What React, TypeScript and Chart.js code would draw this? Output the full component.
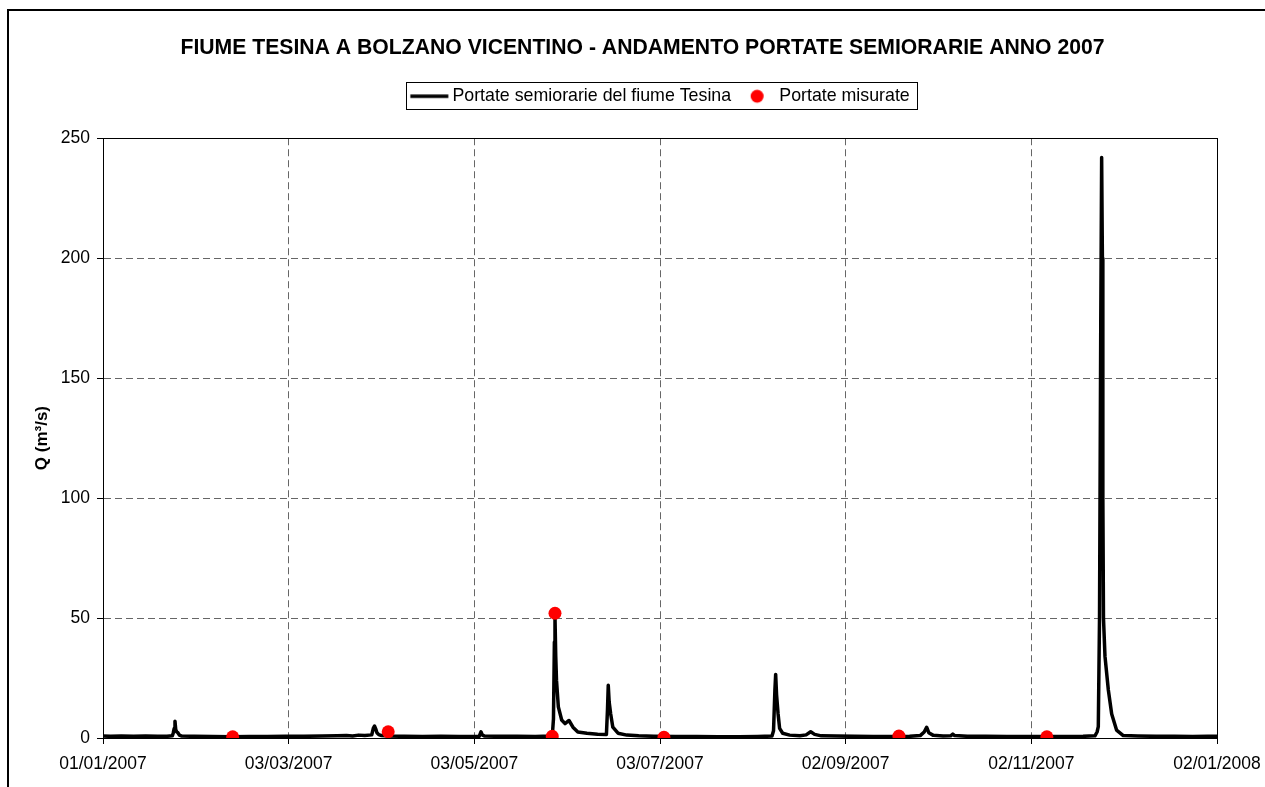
import React, { useEffect, useRef } from 'react';
import { Chart, registerables, layouts } from 'chart.js';

Chart.register(...registerables);

const TITLE = 'FIUME TESINA A BOLZANO VICENTINO - ANDAMENTO PORTATE SEMIORARIE ANNO 2007';
const SERIES_FLOW = 'Portate semiorarie del fiume Tesina';
const SERIES_MEASURED = 'Portate misurate';
const Y_TITLE = 'Q (m³/s)';

// x values are days counted from 01/01/2007
const xTickDays = [0, 61, 122, 183, 244, 305, 366];
const xTickLabels = ['01/01/2007', '03/03/2007', '03/05/2007', '03/07/2007', '02/09/2007', '02/11/2007', '02/01/2008'];
const yTickValues = [0, 50, 100, 150, 200, 250];

const flowDays = [
  0, 2.5, 6, 10, 14, 18, 21, 22.8, 23.1, 23.4, 23.65, 23.9, 24.2, 24.6, 25.1, 25.9,
  30, 36, 42, 48, 54, 60, 66, 72, 77, 80, 82, 84, 86, 88.3, 88.8, 89.2, 89.6, 90.0, 90.6, 91.5,
  94, 99, 105, 111, 117, 123.6, 124.2, 124.6, 125.3, 130, 136, 142,
  147.2, 147.7, 148.0, 148.3, 148.5, 148.75, 149.0, 149.6, 150.7, 151.8, 153.1, 154.4, 156.0, 159.0, 162.5,
  165.4, 165.75, 166.0, 166.3, 166.8, 167.5, 169.2, 172.1, 176, 181, 188, 195, 202, 209, 215,
  219.8, 220.3, 220.75, 221.0, 221.3, 221.8, 222.3, 223.3, 225.6, 229, 231, 232.5, 233.8, 236, 241, 247, 253, 259, 265,
  268.5, 269.8, 270.6, 271.3, 272.8, 276, 278.5, 279.2, 279.8, 284, 290, 297, 304, 310, 316, 322,
  325.9, 326.6, 327.0, 327.4, 327.8, 328.1, 328.35, 328.5, 328.7, 329.2, 330.3, 331.4, 333.0, 335.2,
  340, 346, 352, 358, 363, 366,
];
const flowValues = [
  0.8, 0.7, 0.8, 0.7, 0.8, 0.7, 0.7, 0.9, 2.2, 4.0, 7.0, 3.5, 2.6, 2.2, 1.2, 0.8,
  0.7, 0.6, 0.5, 0.6, 0.6, 0.7, 0.7, 0.8, 0.9, 1.0, 0.8, 1.2, 1.0, 1.3, 4.0, 5.0, 3.8, 2.2, 1.4, 1.0,
  0.8, 0.7, 0.6, 0.7, 0.6, 0.7, 2.6, 1.3, 0.8, 0.7, 0.7, 0.6,
  0.8, 2.5, 8, 40, 50.5, 34, 24, 13, 7.5, 6, 7.3, 4.5, 2.5, 2.0, 1.6,
  1.5, 12, 22, 15, 10, 4.5, 2.0, 1.2, 0.9, 0.7, 0.6, 0.6, 0.5, 0.5, 0.6,
  0.8, 3, 20, 26.5, 18, 10, 4, 2, 1.2, 0.9, 1.3, 2.6, 1.5, 0.9, 0.8, 0.7, 0.6, 0.6, 0.7,
  1.0, 2.5, 4.5, 2.2, 1.1, 0.8, 0.9, 1.6, 1.0, 0.7, 0.7, 0.6, 0.6, 0.6, 0.6, 0.7,
  0.9, 2.5, 4.7, 50, 170, 242, 200, 100, 50, 34, 20, 10, 3.3, 1.0,
  0.8, 0.7, 0.7, 0.6, 0.7, 0.7,
];

const measuredDays = [42.6, 93.7, 147.6, 148.5, 184.3, 261.5, 310.1];
const measuredValues = [0.5, 2.6, 0.7, 52, 0.3, 0.8, 0.5];

const FONT = "'Liberation Sans', Arial, sans-serif";

function makeSpacer(position: string, weight: number, size: number) {
  const horizontal = position === 'top' || position === 'bottom';
  return {
    position,
    weight,
    fullSize: false,
    options: {},
    left: 0, top: 0, right: 0, bottom: 0, width: 0, height: 0,
    isHorizontal() { return horizontal; },
    update(maxWidth: number, maxHeight: number) {
      if (horizontal) { this.width = maxWidth; this.height = size; }
      else { this.width = size; this.height = maxHeight; }
    },
    draw() {},
  };
}

export default function App() {
  const ref = useRef<HTMLCanvasElement | null>(null);

  useEffect(() => {
    const canvas = ref.current;
    if (!canvas) return;

    // legend icons (box width 33.25, icon drawn centred on the box)
    const lineIcon = document.createElement('canvas');
    lineIcon.width = 44; lineIcon.height = 6;
    const lc = lineIcon.getContext('2d')!;
    lc.strokeStyle = '#000'; lc.lineWidth = 3.5;
    lc.beginPath(); lc.moveTo(5.4, 3); lc.lineTo(43.4, 3); lc.stroke();

    const dotIcon = document.createElement('canvas');
    dotIcon.width = 22; dotIcon.height = 16;
    const dc = dotIcon.getContext('2d')!;
    dc.fillStyle = '#ff0000';
    dc.beginPath(); dc.arc(14.4, 8, 6.5, 0, Math.PI * 2); dc.fill();

    const icons = [lineIcon, dotIcon];

    const spacerPlugin = {
      id: 'spacers',
      beforeInit(chart: any) {
        layouts.addBox(chart, makeSpacer('top', 500, 23.1) as any);
        layouts.addBox(chart, makeSpacer('right', 500, 48) as any);
      },
    };

    const framePlugin = {
      id: 'frames',
      afterDraw(chart: any) {
        const ctx = chart.ctx;
        const a = chart.chartArea;
        const al = (v: number) => Math.round(v - 0.5) + 0.5;
        ctx.save();
        ctx.strokeStyle = '#000';
        ctx.lineWidth = 1;
        ctx.setLineDash([]);
        ctx.strokeRect(al(a.left), al(a.top), al(a.right) - al(a.left), al(a.bottom) - al(a.top));
        const hb = chart.legend && chart.legend.legendHitBoxes;
        if (hb && hb.length) {
          const first = hb[0];
          const last = hb[hb.length - 1];
          const cy = first.top + first.height / 2;
          const x1 = al(first.left - 4);
          const x2 = al(last.left + last.width + 8);
          const y1 = al(cy - 13.3);
          const y2 = al(cy + 13.3);
          ctx.strokeRect(x1, y1, x2 - x1, y2 - y1);
        }
        ctx.restore();
      },
    };

    const chart = new Chart(canvas, {
      type: 'line',
      data: {
        datasets: [
          {
            label: SERIES_FLOW,
            data: flowDays.map((d, i) => ({ x: d, y: flowValues[i] })),
            borderColor: '#000',
            backgroundColor: '#000',
            borderWidth: 3.5,
            borderJoinStyle: 'round',
            borderCapStyle: 'round',
            pointRadius: 0,
            tension: 0,
            fill: false,
            order: 2,
          },
          {
            label: SERIES_MEASURED,
            data: measuredDays.map((d, i) => ({ x: d, y: measuredValues[i] })),
            showLine: false,
            pointRadius: 6.5,
            pointHoverRadius: 6.5,
            pointBackgroundColor: '#ff0000',
            pointBorderWidth: 0,
            borderColor: '#ff0000',
            backgroundColor: '#ff0000',
            order: 1,
          },
        ],
      },
      options: {
        responsive: false,
        animation: false,
        devicePixelRatio: 1,
        events: [],
        layout: { padding: { top: 10, left: 20, right: 0, bottom: 0 } },
        plugins: {
          title: {
            display: true,
            text: TITLE,
            color: '#000',
            font: { family: FONT, size: 21.2, weight: 'bold' },
            padding: { top: 25, bottom: 20.9 },
          },
          legend: {
            display: true,
            position: 'top',
            fullSize: false,
            labels: {
              color: '#000',
              font: { family: FONT, size: 17.8 },
              usePointStyle: true,
              pointStyleWidth: 33.25,
              padding: 6,
              generateLabels: (ch: any) =>
                ch.data.datasets.map((ds: any, i: number) => ({
                  text: ds.label,
                  datasetIndex: i,
                  pointStyle: icons[i],
                  rotation: 0,
                  fillStyle: 'rgba(0,0,0,0)',
                  strokeStyle: 'rgba(0,0,0,0)',
                  lineWidth: 0,
                  hidden: false,
                  fontColor: '#000',
                })),
            },
          },
          tooltip: { enabled: false },
        },
        scales: {
          x: {
            type: 'linear',
            min: 0,
            max: 366,
            afterBuildTicks: (scale: any) => {
              scale.ticks = xTickDays.map((v) => ({ value: v }));
            },
            afterFit: (scale: any) => {
              scale.height = 49;
              scale.paddingLeft = 0;
              scale.paddingRight = 0;
            },
            ticks: {
              autoSkip: false,
              maxRotation: 0,
              minRotation: 0,
              padding: 9.5,
              color: '#000',
              font: { family: FONT, size: 17.5 },
              callback: (_v: any, i: number) => xTickLabels[i],
            },
            grid: {
              color: '#666',
              lineWidth: 1,
              tickLength: 6,
              tickColor: '#000',
              tickWidth: 1,
              tickBorderDash: [],
            },
            border: { display: true, color: '#000', width: 1, dash: [7, 4] },
          },
          y: {
            type: 'linear',
            min: 0,
            max: 250,
            afterBuildTicks: (scale: any) => {
              scale.ticks = yTickValues.map((v) => ({ value: v }));
            },
            afterFit: (scale: any) => { scale.width = 83; },
            ticks: {
              padding: 7,
              color: '#000',
              font: { family: FONT, size: 17.5 },
            },
            title: {
              display: true,
              text: Y_TITLE,
              color: '#000',
              font: { family: FONT, size: 17, weight: 'bold' },
              padding: { top: 12, bottom: 0 },
            },
            grid: {
              color: '#666',
              lineWidth: 1,
              tickLength: 6,
              tickColor: '#000',
              tickWidth: 1,
              tickBorderDash: [],
            },
            border: { display: true, color: '#000', width: 1, dash: [7, 4] },
          },
        },
      } as any,
      plugins: [spacerPlugin, framePlugin],
    });

    return () => chart.destroy();
  }, []);

  return (
    <div style={{ position: 'fixed', left: 0, top: 0, width: 1265, height: 787, overflow: 'hidden', background: '#fff' }}>
      <div style={{ position: 'absolute', left: 7, top: 9, width: 1320, height: 840, border: '2px solid #000', boxSizing: 'border-box' }} />
      <canvas ref={ref} width={1265} height={787} style={{ position: 'absolute', left: 0, top: 0, width: 1265, height: 787 }} />
    </div>
  );
}
